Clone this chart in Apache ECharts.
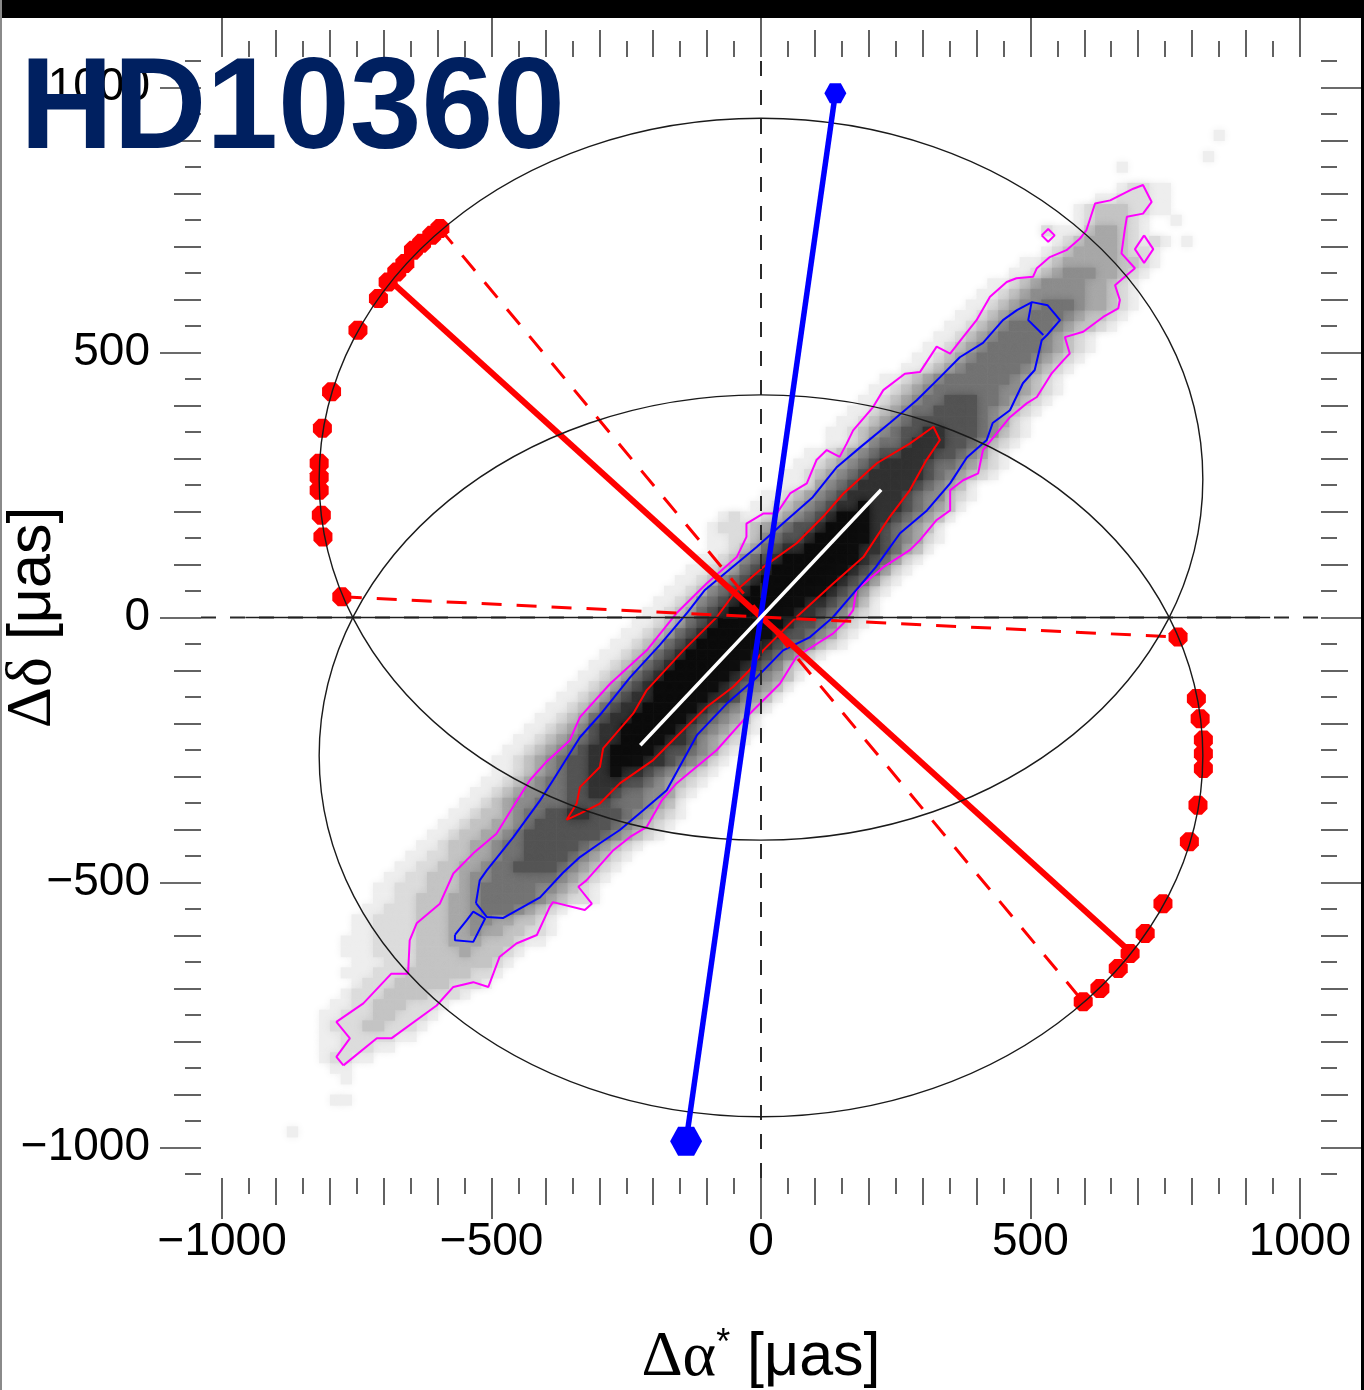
<!DOCTYPE html>
<html>
<head>
<meta charset="utf-8">
<script src="https://cdn.jsdelivr.net/npm/echarts@6/dist/echarts.min.js"></script>
<style>
  html, body { margin: 0; padding: 0; background: #ffffff; }
  #chart { width: 1364px; height: 1390px; }
</style>
</head>
<body>
<div id="chart"></div>
<script>
// ---------------- data ----------------
const titleText = 'HD10360';
const xRange = [-1039.3, 1039.3];
const yRange = [-1057.5, 1057.5];

const majorTicks = [-1000, -500, 0, 500, 1000];
const longTicks = [-900, -800, -700, -600, -400, -300, -200, -100, 100, 200, 300, 400, 600, 700, 800, 900];
const shortTicks = [-1050, -950, -850, -750, -650, -550, -450, -350, -250, -150, -50,
                    50, 150, 250, 350, 450, 550, 650, 750, 850, 950, 1050];

// 2-D histogram of the astrometric solutions: [row bottom y, first bin x, bin levels 0-9]
const binSize = 20;
const grayLevels = ['#ffffff', '#eeeeee', '#dcdcdc', '#c4c4c4', '#a8a8a8', '#8e8e8e',
                    '#747474', '#555555', '#333333', '#0e0e0e'];
const densityRows = [
  [900, 840, '1'],
  [860, 820, '1'],
  [840, 660, '1'],
  [800, 660, '12211'],
  [780, 620, '1122211'],
  [760, 580, '123332211'],
  [740, 580, '1233321001'],
  [720, 520, '2111344321'],
  [700, 540, '1234443212101'],
  [680, 520, '12344443221'],
  [660, 480, '1123444443321'],
  [640, 460, '1123455544321'],
  [620, 420, '11234555544321'],
  [600, 400, '112345555544321'],
  [580, 380, '1123455666544321'],
  [560, 360, '1123455666543321'],
  [540, 340, '1123456666543321'],
  [520, 320, '112345666654321'],
  [500, 300, '1123456666654321'],
  [480, 280, '1123456666654321'],
  [460, 260, '1123456666654321'],
  [440, 220, '11234566666654321'],
  [420, 200, '112345666666554321'],
  [400, 180, '112345667776654321'],
  [380, 160, '112345667777654321'],
  [360, 140, '112345677777765421'],
  [340, 120, '1123456778877765321'],
  [320, 120, '112356678887765321'],
  [300, 80, '1123456778887765421'],
  [280, 60, '11234567888876654321'],
  [260, 40, '11234567888887654321'],
  [240, 40, '112456788888765431'],
  [220, 0, '11234567888887655321'],
  [200, -20, '11234567889888765431'],
  [180, -80, '1211234567899988765431'],
  [160, -100, '1222345677899998765431'],
  [140, -100, '1122356778999998765421'],
  [120, -100, '112346788999998876431'],
  [100, -120, '112356789999999876421'],
  [80, -140, '112346789999999876421'],
  [60, -160, '112356789999999876421'],
  [40, -180, '112356789999999876421'],
  [20, -200, '112356789999998876531'],
  [0, -220, '1123467899999988765321'],
  [-20, -240, '1123467899999987765321'],
  [-40, -260, '1123467899999987765421'],
  [-60, -280, '1123467899999987665321'],
  [-80, -300, '112346789999998765421'],
  [-100, -320, '112346789999998765321'],
  [-120, -340, '112346789999998765431'],
  [-140, -360, '112346789999998765431'],
  [-160, -380, '112346788999998875431'],
  [-180, -400, '112346788999998765431'],
  [-200, -420, '112346788999998765431'],
  [-220, -440, '1123457889999987654321'],
  [-240, -460, '1123456788999988754321'],
  [-260, -480, '1123456788999987765421'],
  [-280, -500, '1123456778899988765421'],
  [-300, -500, '112345677889887654321'],
  [-320, -520, '112345667788877654321'],
  [-340, -540, '112345566778876655421'],
  [-360, -560, '112345566677776665431'],
  [-380, -580, '1123345667788777654321'],
  [-400, -600, '1123344567777777654321'],
  [-420, -620, '1123344567777777654321'],
  [-440, -640, '112334456677777654321'],
  [-460, -660, '112233445667777654321'],
  [-480, -680, '112233445667777654321'],
  [-500, -700, '112233345566666654321'],
  [-520, -720, '112223334566666554321'],
  [-540, -720, '112233344566666543221'],
  [-560, -740, '1122233344566654321'],
  [-580, -760, '1122223334455443321'],
  [-600, -760, '1122223334454433221'],
  [-620, -780, '1112222333444333211'],
  [-640, -780, '11122223333433321'],
  [-660, -760, '111222333333321'],
  [-680, -780, '111222333333221'],
  [-700, -760, '1222333332221'],
  [-720, -780, '122233332221'],
  [-740, -800, '11223332221'],
  [-760, -820, '11222332221'],
  [-780, -820, '1222332221'],
  [-800, -820, '112222211'],
  [-820, -820, '1122211'],
  [-840, -820, '12211'],
  [-860, -800, '11'],
  [-880, -780, '1'],
  [-920, -800, '11'],
  [-980, -880, '1']
];

// density contours (outer, middle, inner)
const magentaContour = [
  [-775,-845],[-788,-829],[-763,-794],[-788,-763],[-738,-728],[-686,-672],[-655,-672],[-652,-609],
  [-639,-577],[-596,-540],[-571,-483],[-534,-445],[-491,-408],[-460,-357],[-429,-307],[-398,-272],
  [-355,-232],[-336,-188],[-280,-125],[-212,-62],[-157,8],[-101,64],[-45,114],[-27,152],[-27,177],
  [4,196],[29,196],[54,234],[85,253],[103,297],[122,316],[146,303],[159,328],[171,353],[208,397],
  [227,429],[267,460],[295,463],[326,511],[351,498],[375,529],[400,561],[425,605],[456,633],[474,640],
  [505,643],[512,659],[536,680],[567,693],[592,715],[604,731],[620,781],[648,787],[691,809],[709,816],
  [725,784],[709,762],[679,756],[675,731],[669,687],[694,659],[672,640],[657,627],[666,599],[663,583],
  [635,567],[598,539],[564,529],[573,498],[561,485],[539,460],[512,416],[493,404],[462,378],[437,347],
  [412,316],[403,272],[375,259],[351,240],[351,202],[326,184],[295,146],[276,127],[227,95],[177,52],
  [171,14],[153,-11],[134,-30],[66,-74],[35,-125],[-33,-194],[-82,-250],[-157,-313],[-184,-345],
  [-212,-395],[-243,-414],[-274,-439],[-324,-496],[-339,-508],[-314,-540],[-327,-552],[-386,-537],
  [-392,-546],[-416,-599],[-454,-615],[-485,-640],[-506,-697],[-534,-688],[-571,-697],[-602,-732],
  [-686,-794],[-713,-794]
];
const magentaIslandA = [[521,721],[533,733],[545,721],[533,709]];
const magentaIslandB = [[711,721],[728,695],[711,669],[694,695]];

const blueContour = [
  [-529,-539],[-522,-496],[-509,-477],[-460,-415],[-410,-345],[-386,-307],[-336,-226],[-299,-184],
  [-243,-113],[-188,-52],[-136,10],[-104,52],[-45,102],[-8,133],[41,178],[96,227],[141,284],[184,321],
  [239,367],[289,410],[332,453],[369,491],[412,518],[449,561],[475,580],[503,595],[532,589],[555,561],
  [531,533],[521,523],[508,467],[486,442],[462,391],[430,367],[419,335],[382,302],[351,253],[308,202],
  [258,159],[213,95],[165,38],[133,0],[91,-37],[41,-62],[-8,-113],[-63,-162],[-119,-222],[-175,-326],
  [-219,-364],[-262,-401],[-299,-426],[-336,-452],[-368,-482],[-410,-528],[-479,-567],[-509,-565]
];
const blueIsland = [[-568,-599],[-546,-571],[-534,-555],[-512,-568],[-534,-612],[-568,-609]];
const blueTipEdge = [[502,594],[496,561],[524,533]];

const redContour = [
  [-361,-382],[-342,-351],[-336,-320],[-299,-282],[-293,-247],[-237,-181],[-212,-137],[-144,-62],
  [-82,1],[-45,52],[4,95],[66,140],[115,190],[153,234],[215,291],[276,328],[320,360],[332,335],
  [307,297],[276,240],[239,190],[190,114],[134,64],[66,1],[4,-62],[-21,-99],[-52,-131],[-101,-169],
  [-157,-225],[-200,-269],[-262,-313],[-299,-351],[-336,-370]
];

// parallax ellipses: [centre x, centre y, semi-axis x, semi-axis y]
const parallaxEllipses = [
  [0, 261, 820, 681],
  [0, -261, 820, 681]
];

// epochs of the measurements on the two ellipses
const epochsUpper = [
  [-596,734],[-611,721],[-630,706],[-645,693],[-661,668],[-676,652],[-692,633],[-710,602],
  [-748,542],[-797,426],[-814,357],[-820,291],[-820,265],[-820,240],[-816,193],[-813,152],[-778,39]
];
const epochsLower = [
  [774,-37],[808,-153],[815,-191],[821,-231],[821,-257],[821,-285],[811,-354],[795,-423],
  [746,-540],[713,-596],[685,-634],[663,-662],[629,-700],[598,-725]
];

const redSolidSegment = [[-679,627],[679,-625]];
const redDashedSegmentA = [[-596,734],[598,-725]];
const redDashedSegmentB = [[-778,39],[774,-37]];
const blueSegment = [[138,989],[-139,-988]];
const whiteSegment = [[-224,-241],[223,241]];
const zeroLineSolid = [[-957,0],[945,0]];

// ---------------- drawing ----------------
const densityCells = [];
densityRows.forEach(([y0, x0, s]) => {
  for (let i = 0; i < s.length; i++) {
    const lv = Number(s[i]);
    if (lv > 0) densityCells.push([x0 + i * binSize, y0, lv]);
  }
});
densityCells.sort((a, b) => a[2] - b[2]);

const closeRing = pts => pts.concat([pts[0]]);
const minusFmt = v => (v < 0 ? '\u2212' + Math.abs(v) : String(v));

const tickStyle = { color: '#3a3a3a', width: 1.6 };
function tickAxis(range, position, values, length) {
  return {
    type: 'value', position, min: range[0], max: range[1],
    axisLine: { show: false, onZero: false }, splitLine: { show: false },
    axisTick: { show: true, inside: false, length, customValues: values, lineStyle: tickStyle },
    axisLabel: { show: false }
  };
}
const labelStyle = { show: true, customValues: majorTicks, formatter: minusFmt,
                     fontSize: 46, fontFamily: 'Liberation Sans', color: '#000' };
const nameRich = {
  g: { fontFamily: 'Liberation Serif', fontSize: 64, color: '#000' },
  s: { fontFamily: 'Liberation Sans', fontSize: 36, color: '#000', verticalAlign: 'top' },
  u: { fontFamily: 'Liberation Sans', fontSize: 61, color: '#000' }
};

const xBottomMajor = Object.assign(tickAxis(xRange, 'bottom', majorTicks, 41), {
  axisLabel: Object.assign({ margin: 41 }, labelStyle),
  name: '{g|\u0394\u03b1}{s|*}{u| [\u03bcas]}', nameLocation: 'middle', nameGap: 148,
  nameMoveOverlap: false, nameTextStyle: { rich: nameRich }
});
const yLeftMajor = Object.assign(tickAxis(yRange, 'left', majorTicks, 41), {
  axisLabel: Object.assign({ margin: 51 }, labelStyle),
  name: '{g|\u0394\u03b4}{u| [\u03bcas]}', nameLocation: 'middle', nameGap: 136,
  nameMoveOverlap: false, nameTextStyle: { rich: nameRich }
});

function segmentSeries(data, color, width, type, z) {
  return {
    type: 'line', data, z, symbol: 'none', silent: true, animation: false,
    lineStyle: { color, width, type, cap: 'butt' }
  };
}

const octagon = 'path://M-0.41,-1L0.41,-1L1,-0.41L1,0.41L0.41,1L-0.41,1L-1,0.41L-1,-0.41Z';
const hexagon = 'path://M-1,0L-0.5,-0.87L0.5,-0.87L1,0L0.5,0.87L-0.5,0.87Z';

const option = {
  animation: false,
  backgroundColor: '#ffffff',
  grid: { left: 201, top: 57, width: 1120, height: 1121, containLabel: false, outerBoundsMode: 'none' },
  xAxis: [
    xBottomMajor,
    tickAxis(xRange, 'bottom', longTicks, 27),
    tickAxis(xRange, 'bottom', shortTicks, 16),
    tickAxis(xRange, 'top', majorTicks, 41),
    tickAxis(xRange, 'top', longTicks, 27),
    tickAxis(xRange, 'top', shortTicks, 16)
  ],
  yAxis: [
    yLeftMajor,
    tickAxis(yRange, 'left', longTicks, 27),
    tickAxis(yRange, 'left', shortTicks, 16),
    tickAxis(yRange, 'right', majorTicks, 41),
    tickAxis(yRange, 'right', longTicks, 27),
    tickAxis(yRange, 'right', shortTicks, 16)
  ],
  series: [
    {
      type: 'custom', name: 'density', z: 1, silent: true, data: densityCells,
      encode: { x: 0, y: 1 },
      renderItem(params, api) {
        const x0 = api.value(0), y0 = api.value(1), lv = api.value(2);
        const p0 = api.coord([x0, y0 + binSize]);
        const p1 = api.coord([x0 + binSize, y0]);
        const c = grayLevels[lv];
        return {
          type: 'rect',
          shape: { x: p0[0], y: p0[1], width: p1[0] - p0[0] + 0.5, height: p1[1] - p0[1] + 0.5 },
          style: { fill: c, shadowBlur: 9, shadowColor: c }
        };
      }
    },
    segmentSeries(closeRing(magentaContour), '#ff00ff', 2, 'solid', 2),
    segmentSeries(closeRing(magentaIslandA), '#ff00ff', 2, 'solid', 2),
    segmentSeries(closeRing(magentaIslandB), '#ff00ff', 2, 'solid', 2),
    segmentSeries(closeRing(blueContour), '#0000ff', 2, 'solid', 2),
    segmentSeries(closeRing(blueIsland), '#0000ff', 2, 'solid', 2),
    segmentSeries(blueTipEdge, '#0000ff', 2, 'solid', 2),
    segmentSeries(closeRing(redContour), '#ff0000', 2, 'solid', 2),
    segmentSeries([[0, yRange[0]], [0, yRange[1]]], '#2a2a2a', 2, [15, 14], 3),
    segmentSeries([[xRange[0], 0], [xRange[1], 0]], '#2a2a2a', 2, [15, 14], 3),
    segmentSeries(zeroLineSolid, '#1e1e1e', 1.5, 'solid', 3),
    segmentSeries(redDashedSegmentA, '#ff0000', 3, [20, 15], 4),
    segmentSeries(redDashedSegmentB, '#ff0000', 3, [20, 15], 4),
    segmentSeries(redSolidSegment, '#ff0000', 6, 'solid', 4),
    {
      type: 'scatter', z: 5, silent: true, data: epochsUpper.concat(epochsLower),
      symbol: octagon, symbolSize: 19, itemStyle: { color: '#ff0000', opacity: 1 }
    },
    {
      type: 'custom', name: 'parallax', z: 6, silent: true, data: parallaxEllipses,
      encode: { x: 0, y: 1 },
      renderItem(params, api) {
        const c = api.coord([api.value(0), api.value(1)]);
        const s = api.size([api.value(2), api.value(3)]);
        return {
          type: 'ellipse',
          shape: { cx: c[0], cy: c[1], rx: s[0], ry: s[1] },
          style: { fill: 'none', stroke: '#1a1a1a', lineWidth: 1.4 }
        };
      }
    },
    segmentSeries(blueSegment, '#0000ff', 5.5, 'solid', 7),
    {
      type: 'scatter', z: 7, silent: true, symbol: hexagon,
      data: [
        { value: blueSegment[0], symbolSize: [22, 20] },
        { value: blueSegment[1], symbolSize: [32, 29] }
      ],
      itemStyle: { color: '#0000ff', opacity: 1 }
    },
    segmentSeries(whiteSegment, '#ffffff', 3.5, 'solid', 8)
  ],
  graphic: [
    { type: 'rect', z: 100, silent: true, shape: { x: 0, y: 0, width: 1364, height: 18 }, style: { fill: '#000000' } },
    { type: 'rect', z: 100, silent: true, shape: { x: 1361, y: 0, width: 3, height: 1390 }, style: { fill: '#000000' } },
    { type: 'rect', z: 100, silent: true, shape: { x: 0, y: 0, width: 2, height: 1390 }, style: { fill: '#8a8a8a' } },
    {
      type: 'text', z: 101, silent: true, x: 20, y: 112,
      style: {
        text: titleText, font: 'bold 129px "Liberation Sans"', fill: '#002060',
        align: 'left', verticalAlign: 'middle', textAlign: 'left', textVerticalAlign: 'middle'
      }
    }
  ]
};

const chart = echarts.init(document.getElementById('chart'), null, { renderer: 'canvas' });
chart.setOption(option);
</script>
</body>
</html>
